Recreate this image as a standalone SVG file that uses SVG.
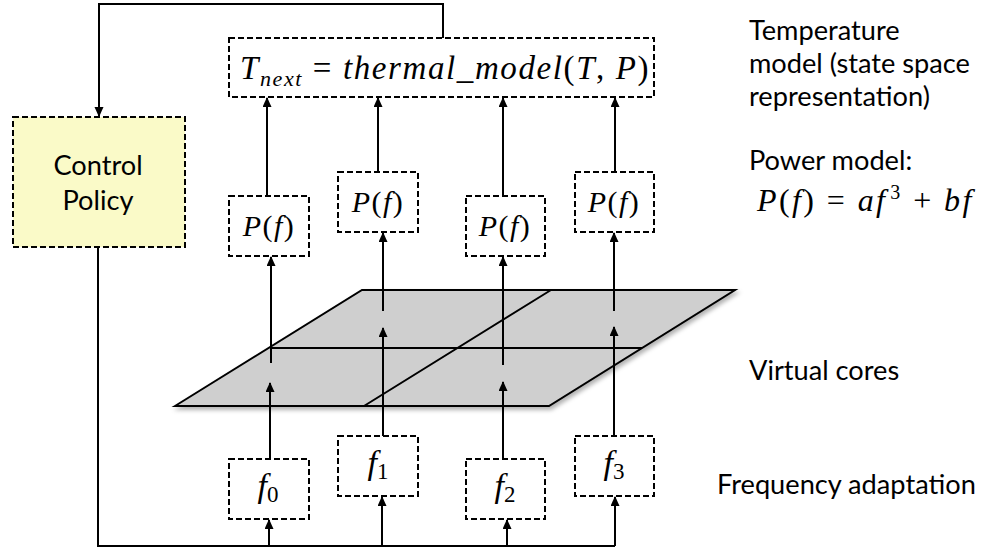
<svg xmlns="http://www.w3.org/2000/svg" width="995" height="550" viewBox="0 0 995 550">
<style>
.box{fill:#ffffff;stroke:#000;stroke-width:2;stroke-dasharray:6 3}
.cp{fill:#fafac8}
.ln{fill:none;stroke:#000;stroke-width:2}
.arr{marker-end:url(#ah)}
.lbl{font-family:Lato,"Open Sans",sans-serif;font-size:27.2px;fill:#000}
.math{font-family:"Liberation Serif","Times New Roman",serif;fill:#000}
.it{font-style:italic}
.plane{fill:#cfcfcf;stroke:#000;stroke-width:2;stroke-linejoin:miter}
</style>
<defs>
<marker id="ah" markerUnits="userSpaceOnUse" markerWidth="10" markerHeight="12" refX="9" refY="4.5" orient="auto">
<path d="M0,0 L10,4.5 L0,9 Z" fill="#000"/>
</marker>
<filter id="sh" x="-10%" y="-10%" width="130%" height="140%">
<feDropShadow dx="2" dy="3" stdDeviation="2" flood-color="#000" flood-opacity="0.3"/>
</filter>
</defs>

<g id="virtual-cores">
<path class="plane" filter="url(#sh)" d="M175,406 L362,290 L735,290 L549,406 Z"/>
<path class="ln" d="M270,348 L642,348 M364,406 L551,290"/>
</g>

<g id="control-policy">
<rect class="box cp" x="13" y="117" width="172" height="130"/>
<text class="lbl" x="98" y="175" text-anchor="middle">Control</text>
<text class="lbl" x="98" y="210" text-anchor="middle">Policy</text>
</g>

<g id="thermal-model">
<rect class="box" x="229" y="38" width="425" height="59"/>
<text class="math" x="240" y="79" font-size="33" letter-spacing="1.6"><tspan class="it">T</tspan><tspan class="it" font-size="22" dy="7">next</tspan><tspan dy="-7"> = </tspan><tspan class="it">thermal_model</tspan>(<tspan class="it">T</tspan>, <tspan class="it">P</tspan>)</text>
</g>

<g id="power0">
<rect class="box" x="229" y="196" width="80" height="60"/>
<text class="math" x="269" y="236" font-size="30" letter-spacing="1.5" text-anchor="middle"><tspan class="it">P</tspan>(<tspan class="it">f</tspan>)</text>
</g>
<g id="power1">
<rect class="box" x="338" y="172" width="80" height="60"/>
<text class="math" x="378" y="212" font-size="30" letter-spacing="1.5" text-anchor="middle"><tspan class="it">P</tspan>(<tspan class="it">f</tspan>)</text>
</g>
<g id="power2">
<rect class="box" x="466" y="196" width="79" height="60"/>
<text class="math" x="505" y="236" font-size="30" letter-spacing="1.5" text-anchor="middle"><tspan class="it">P</tspan>(<tspan class="it">f</tspan>)</text>
</g>
<g id="power3">
<rect class="box" x="575" y="172" width="79" height="60"/>
<text class="math" x="614" y="212" font-size="30" letter-spacing="1.5" text-anchor="middle"><tspan class="it">P</tspan>(<tspan class="it">f</tspan>)</text>
</g>

<g id="freq0">
<rect class="box" x="229" y="459" width="80" height="60"/>
<text class="math" x="268" y="497" font-size="34" text-anchor="middle"><tspan class="it">f</tspan><tspan font-size="23" dy="5">0</tspan></text>
</g>
<g id="freq1">
<rect class="box" x="338" y="436" width="80" height="60"/>
<text class="math" x="378" y="474" font-size="34" text-anchor="middle"><tspan class="it">f</tspan><tspan font-size="23" dy="5">1</tspan></text>
</g>
<g id="freq2">
<rect class="box" x="466" y="459" width="79" height="60"/>
<text class="math" x="505" y="497" font-size="34" text-anchor="middle"><tspan class="it">f</tspan><tspan font-size="23" dy="5">2</tspan></text>
</g>
<g id="freq3">
<rect class="box" x="575" y="436" width="79" height="60"/>
<text class="math" x="614" y="474" font-size="34" text-anchor="middle"><tspan class="it">f</tspan><tspan font-size="23" dy="5">3</tspan></text>
</g>

<g id="connectors">
<path class="ln arr" d="M443,38 L443,4 L99,4 L99,116"/>
<path class="ln" d="M98,247 L98,546 L615,546"/>
<path class="ln arr" d="M269,546 L269,520"/>
<path class="ln arr" d="M382,546 L382,497"/>
<path class="ln arr" d="M507,546 L507,520"/>
<path class="ln arr" d="M615,546 L615,497"/>
<path class="ln arr" d="M270,459 L270,383"/>
<path class="ln arr" d="M383,436 L383,328"/>
<path class="ln arr" d="M503,459 L503,382"/>
<path class="ln arr" d="M614,436 L614,327"/>
<path class="ln arr" d="M271,363 L271,257"/>
<path class="ln arr" d="M383,311 L383,233"/>
<path class="ln arr" d="M503,365 L503,257"/>
<path class="ln arr" d="M614,311 L614,233"/>
<path class="ln arr" d="M267,196 L267,98"/>
<path class="ln arr" d="M378,172 L378,98"/>
<path class="ln arr" d="M503,196 L503,98"/>
<path class="ln arr" d="M615,172 L615,98"/>
</g>

<g id="labels">
<text class="lbl" x="749" y="40">Temperature</text>
<text class="lbl" x="749" y="73">model (state space</text>
<text class="lbl" x="749" y="106">representation)</text>
<text class="lbl" x="749" y="170">Power model:</text>
<text class="math" x="757" y="211" font-size="32" letter-spacing="2.4"><tspan class="it">P</tspan>(<tspan class="it">f</tspan>) = <tspan class="it">af</tspan><tspan font-size="20" dx="3" dy="-12">3</tspan><tspan dy="12"> + </tspan><tspan class="it">bf</tspan></text>
<text class="lbl" x="749" y="380">Virtual cores</text>
<text class="lbl" x="717" y="494">Frequency adaptation</text>
</g>
</svg>
